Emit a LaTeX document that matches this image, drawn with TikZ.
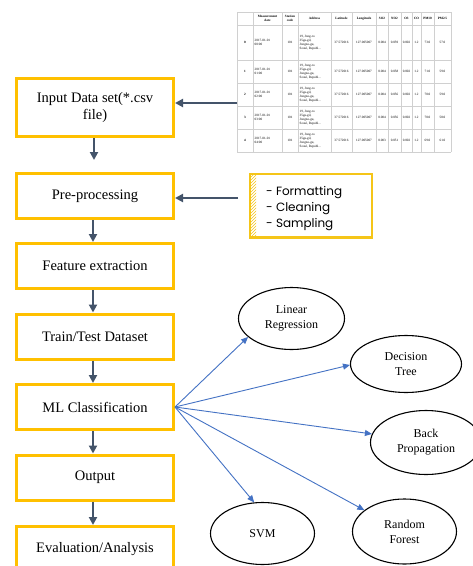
\documentclass[tikz,border=0pt]{standalone}
\usepackage{fontspec}
\setmainfont{Liberation Serif}
\newfontfamily\notefont{Poppins}
\usetikzlibrary{arrows.meta,shapes.geometric,patterns}
\definecolor{boxorange}{HTML}{FFC000}
\definecolor{slate}{HTML}{44546A}
\definecolor{algoblue}{HTML}{4472C4}
\definecolor{gridgray}{HTML}{D0D0D0}
\definecolor{notey}{HTML}{F5C518}
\tikzset{
  flowbox/.style={draw=boxorange,line width=3pt,fill=white,minimum width=157pt,minimum height=45pt,inner sep=0pt,align=center,font=\fontsize{14.5}{16.5}\selectfont},
  flowarrow/.style={draw=slate,line width=2.6pt,-{Triangle[length=8pt,width=8pt]}},
  algo/.style={ellipse,draw=black,line width=1.1pt,fill=white,inner sep=0pt,align=center,font=\fontsize{12}{15}\selectfont},
  algoarrow/.style={draw=algoblue,line width=0.9pt,-{Triangle[length=7pt,width=6pt]}},
  tgrid/.style={draw=gridgray,line width=0.5pt},
  tc/.style={inner sep=0pt,font=\fontsize{3.3}{3.9}\selectfont},
  tcl/.style={tc,anchor=west,align=left},
}
\newcommand\tabrow[8]{%
  \node[tc] (#1i) at (245,#2) {\textbf{#3}};
  \node[tcl] (#1d) at (254.5,#2) {2017-01-01\\#4};
  \node[tc] (#1s) at (290,#2) {101};
  \node[tcl] (#1a) at (299.5,#2) {19, Jong-ro\\35ga-gil,\\Jongno-gu,\\Seoul, Republ...};
  \node[tc] (#1la) at (341.5,#2) {37.572016};
  \node[tc] (#1lo) at (364,#2) {127.005007};
  \node[tc] (#1so) at (382,#2) {#5};
  \node[tc] (#1no) at (394.5,#2) {#6};
  \node[tc] (#1o) at (406.5,#2) {0.002};
  \node[tc] (#1co) at (416.5,#2) {1.2};
  \node[tc] (#1pa) at (427.5,#2) {#7};
  \node[tc] (#1pb) at (442.5,#2) {#8};
}
\begin{document}
\begin{tikzpicture}[x=1pt,y=-1pt]
\clip (0,0) rectangle (473,566);
\fill[white] (0,0) rectangle (473,566);

% ---- data table ----
\node[fill=white,inner sep=0pt,minimum width=214pt,minimum height=140pt] (tbl) at (344,82) {};
\foreach \x in {237,253,282,298,331,352,376,388,401,412,421,434,451}
  \draw[tgrid] (\x,12) -- (\x,152);
\foreach \y in {12,25,60,83,106,129,152}
  \draw[tgrid] (237,\y) -- (451,\y);
\begin{scope}[every node/.style={tc,font=\fontsize{3.3}{3.9}\selectfont\bfseries,align=center}]
  \node (hd) at (267.5,18.5) {Measurement\\date};
  \node (hs) at (290,18.5) {Station\\code};
  \node (ha) at (314.5,18.5) {Address};
  \node (hla) at (341.5,18.5) {Latitude};
  \node (hlo) at (364,18.5) {Longitude};
  \node (hso) at (382,18.5) {SO2};
  \node (hno) at (394.5,18.5) {NO2};
  \node (ho) at (406.5,18.5) {O3};
  \node (hco) at (416.5,18.5) {CO};
  \node (hpa) at (427.5,18.5) {PM10};
  \node (hpb) at (442.5,18.5) {PM2.5};
\end{scope}
\tabrow{ra}{42.5}{0}{00:00}{0.004}{0.059}{73.0}{57.0}
\tabrow{rb}{71.5}{1}{01:00}{0.004}{0.058}{71.0}{59.0}
\tabrow{rc}{94.5}{2}{02:00}{0.004}{0.056}{70.0}{59.0}
\tabrow{rd}{117.5}{3}{03:00}{0.004}{0.056}{70.0}{58.0}
\tabrow{re}{140.5}{4}{04:00}{0.003}{0.051}{69.0}{61.0}

% ---- note ----
\node[draw=notey,line width=1.3pt,fill=white,minimum width=122pt,minimum height=64pt,inner sep=0pt] (note) at (311,206) {};
\fill[pattern=north east lines,pattern color=notey] (250,174) rectangle (256,238);
\draw[notey,line width=1.3pt] (250,174) -- (250,238);
\draw[notey,line width=2.4pt] (250,237.5) -- (372,237.5);
\node[anchor=west,inner sep=0pt,align=left,font=\notefont\fontsize{12}{16}\selectfont] (notetext) at (266,209) {- Formatting\\- Cleaning\\- Sampling};

% ---- flow boxes ----
\node[flowbox,minimum height=58pt] (inp) at (95,107.5) {Input Data set(*.csv\\file)};
\node[flowbox] (pre) at (95,196) {Pre-processing};
\node[flowbox] (feat) at (95,266) {Feature extraction};
\node[flowbox] (tt) at (95,336.5) {Train/Test Dataset};
\node[flowbox] (ml) at (95,407) {ML Classification};
\node[flowbox] (out) at (95,477.5) {Output};
\node[flowbox] (eval) at (95,549) {Evaluation/Analysis};

\coordinate (tblout) at (237,103);
\coordinate (noteout) at (238,198);
\draw[flowarrow] (tblout) -- (inp.east |- tblout);
\draw[flowarrow] (noteout) -- (pre.east |- noteout);
\draw[flowarrow,shorten >=12pt] ([xshift=-1pt]inp.south) -- ([xshift=-1pt]pre.north);
\draw[flowarrow] ([xshift=-2pt]pre.south) -- ([xshift=-2pt]feat.north);
\draw[flowarrow] ([xshift=-2pt]feat.south) -- ([xshift=-2pt]tt.north);
\draw[flowarrow] ([xshift=-2pt]tt.south) -- ([xshift=-2pt]ml.north);
\draw[flowarrow] ([xshift=-2pt]ml.south) -- ([xshift=-2pt]out.north);
\draw[flowarrow] ([xshift=-2pt]out.south) -- ([xshift=-2pt]eval.north);

% ---- algorithms ----
\node[algo,minimum width=106pt,minimum height=62pt] (lr) at (291.5,318.5) {Linear\\Regression};
\node[algo,minimum width=111pt,minimum height=57pt] (dt) at (406,364) {Decision\\Tree};
\node[algo,minimum width=111pt,minimum height=64pt] (bp) at (426,442.5) {Back\\Propagation};
\node[algo,minimum width=104pt,minimum height=62pt] (svm) at (262.5,533.5) {SVM};
\node[algo,minimum width=104pt,minimum height=65pt] (rf) at (404.5,531.5) {Random\\Forest};

\draw[algoarrow] (ml.east) -- (lr.203);
\draw[algoarrow] (ml.east) -- (dt.181);
\draw[algoarrow] (ml.east) -- (bp.171);
\draw[algoarrow] (ml.east) -- (rf.152);
\draw[algoarrow] (ml.east) -- (svm.105);
\end{tikzpicture}
\end{document}
